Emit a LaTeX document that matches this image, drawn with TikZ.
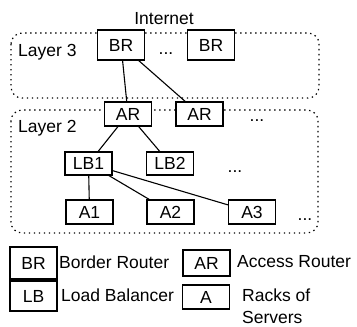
\documentclass[tikz,border=0pt]{standalone}
\usepackage{fontspec}
\setmainfont{Liberation Sans}
\usepackage{tikz}

\begin{document}
\begin{tikzpicture}[x=1pt,y=-1pt,
  font=\fontsize{17.5}{22}\selectfont,
  dev/.style={draw,fill=white,line width=1.1pt,minimum width=47pt,inner sep=0pt},
  layer/.style={line width=1.2pt,rounded corners=11pt,dash pattern=on 1.4pt off 3.6pt},
  txt/.style={inner sep=0pt,anchor=west}]
  \useasboundingbox (0,0) rectangle (357,327);
  % layers
  \draw[layer] (11,33) rectangle (319,98);
  \draw[layer] (11,110) rectangle (318,233);
  \node[txt] (l3) at (18,52) {Layer 3};
  \node[txt] (l2) at (18,128) {Layer 2};
  \node (inet) at (164,19) {Internet};
  % devices
  \node[dev,minimum height=30pt] (br1) at (121,45) {BR};
  \node[dev,minimum height=30pt] (br2) at (211,45) {BR};
  \node[dev,minimum height=24pt] (ar1) at (128,114) {AR};
  \node[dev,minimum height=24pt] (ar2) at (199.5,114) {AR};
  \node[dev,minimum height=23pt] (lb1) at (88.5,163.5) {LB1};
  \node[dev,minimum height=23pt] (lb2) at (170,163.5) {LB2};
  \node[dev,minimum height=24pt] (a1) at (89.5,212) {A1};
  \node[dev,minimum height=24pt] (a2) at (170.5,212) {A2};
  \node[dev,minimum height=24pt] (a3) at (252,212) {A3};
  \node[inner sep=0pt,anchor=base] (d1) at (166,54.5) {...};
  \node[inner sep=0pt,anchor=base] (d2) at (257,121.5) {...};
  \node[inner sep=0pt,anchor=base] (d3) at (235,172.5) {...};
  \node[inner sep=0pt,anchor=base] (d4) at (305,220.5) {...};
  \draw[line width=1.1pt] (ar1) -- (br1) -- (ar2)
  (lb2) -- (ar1) -- (lb1) -- (a1)
  (a2) -- (lb1) -- (a3);
  % legend
  \node[dev,minimum height=32pt] (kbr) at (33.5,263) {BR};
  \node[dev,minimum height=30pt] (klb) at (33.5,296) {LB};
  \node[dev,minimum height=26pt] (kar) at (206.5,263) {AR};
  \node[dev,minimum height=24pt] (ka) at (206,297) {A};
  \node[txt] (tbr) at (59,262) {Border Router};
  \node[txt] (tlb) at (61,295) {Load Balancer};
  \node[txt] (tar) at (237,262) {Access Router};
  \node[txt,align=left] (ta) at (242,306.5) {Racks of\\Servers};
\end{tikzpicture}
\end{document}
